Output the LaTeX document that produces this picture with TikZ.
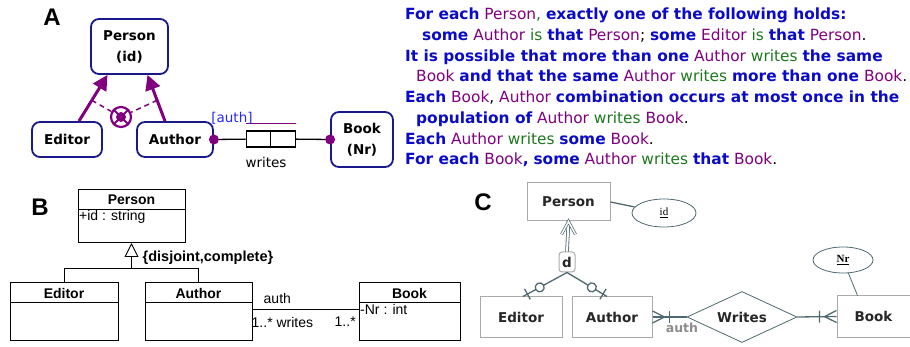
\documentclass[tikz,border=0pt]{standalone}
\usepackage{fontspec}
\setmainfont{DejaVu Sans}
\newfontfamily\umlfont{Liberation Sans}
\newfontfamily\erserif{Liberation Serif}
\usetikzlibrary{
arrows.meta,
decorations.markings,
positioning,
shapes.geometric
}
\definecolor{ormnavy}{RGB}{25,25,140}
\definecolor{ormblue}{RGB}{10,10,200}
\definecolor{ormpurple}{RGB}{128,0,128}
\definecolor{ormgreen}{RGB}{30,120,30}
\definecolor{rolename}{RGB}{40,40,255}
\definecolor{erline}{RGB}{80,105,112}
\definecolor{erborder}{RGB}{170,170,170}
\newcommand\ormKw[1]{\textcolor{ormblue}{\bfseries #1}}
\newcommand\ormObj[1]{\textcolor{ormpurple}{#1}}
\newcommand\ormVerb[1]{\textcolor{ormgreen}{#1}}

\begin{document}
\begin{tikzpicture}[x=1pt, y=-1pt, font=\fontsize{13.5}{21}\selectfont,
	paneltag/.style={font=\umlfont\fontsize{24}{24}\selectfont\bfseries},
	ormtype/.style={
		draw=ormnavy,
		line width=1.8pt,
		rounded corners=8pt,
		align=center,
		inner sep=0pt,
		font=\fontsize{13.5}{21}\selectfont\bfseries
	},
	subtype/.style={draw=ormpurple, line width=3pt, -{Triangle[length=15pt,width=15pt]}},
	roledot/.style={circle, fill=ormpurple, inner sep=0pt, minimum size=10pt},
	rolebox/.style={draw, line width=1.3pt, minimum width=24.5pt, minimum height=16pt, inner sep=0pt},
	umlhead/.style={draw, line width=1pt, inner sep=0pt, minimum height=20pt, font=\umlfont\fontsize{14}{14}\selectfont\bfseries},
	umlbody/.style={draw, line width=1pt, inner sep=0pt},
	umltext/.style={font=\umlfont\fontsize{14}{14}\selectfont, inner sep=1.5pt},
	erbox/.style={draw=erborder, line width=1pt, text=black!85, font=\fontsize{13.5}{14}\selectfont\bfseries},
	erattr/.style={ellipse, draw=erline, line width=.8pt, inner sep=0pt},
	erlink/.style={draw=erline, line width=1.3pt},
	optone/.style={erlink, decoration={markings,
		mark=at position .62 with {\draw[erlink, fill=white] (0,0) circle (4.5pt);},
		mark=at position .9 with {\draw[erlink] (0,-6pt) -- (0,6pt);}}, postaction=decorate},
	manyone/.style={erlink, decoration={markings,
		mark=at position 12pt with {\draw[erlink] (-12pt,6pt) -- (0,0) -- (-12pt,-6pt);
			\draw[erlink] (5pt,-6pt) -- (5pt,6pt);}}, postaction=decorate}
	]
	\useasboundingbox (0,0) rectangle (910,347);

	% A: ORM schema
	\node[paneltag]                               (tagA)    at (52,17)      {A};
	\node[ormtype, minimum width=77, minimum height=55] (personA) at (129.5,46.5) {Person\\(id)};
	\node[ormtype, minimum width=70, minimum height=35] (editorA) at (67,139.5)   {Editor};
	\node[ormtype, minimum width=76, minimum height=35] (authorA) at (175,139.5)  {Author};
	\node[ormtype, minimum width=62, minimum height=55] (bookA)   at (362,139.5)  {Book\\(Nr)};

	\draw[subtype] ([xshift=12pt]editorA.north) -- coordinate[pos=.45] (emid) ([xshift=-22pt]personA.south);
	\draw[subtype] ([xshift=-10pt]authorA.north) -- coordinate[pos=.45] (amid) ([xshift=18pt]personA.south);

	\node[circle, draw=ormpurple, line width=2.2pt, minimum size=20pt, inner sep=0pt] (xorA) at (121,117) {};
	\draw[ormpurple, line width=1.8pt] (xorA.45) -- (xorA.225) (xorA.135) -- (xorA.315);
	\fill[ormpurple] (xorA) circle (5pt);
	\draw[ormpurple, line width=1.5pt, dash pattern=on 5pt off 4pt] (emid) -- (xorA);
	\draw[ormpurple, line width=1.5pt, dash pattern=on 5pt off 4pt] (amid) -- (xorA);

	\node[rolebox]                  (roleL) at (258.5,139) {};
	\node[rolebox, right=-1.3pt of roleL] (roleR) {};
	\node[roledot] (dotAuthor) at (authorA.east) {};
	\node[roledot] (dotBook)   at (bookA.west)   {};
	\draw[line width=1.3pt] (dotAuthor) -- (roleL);
	\draw[line width=1.3pt] (roleR) -- (dotBook);
	\draw[ormpurple, line width=1.5pt] ([yshift=7pt]roleL.north west) -- ([yshift=7pt]roleR.north east);
	\node[text=rolename] (authA)   at (232,118) {[auth]};
	\node                (writesA) at (266,162) {writes};

	% verbalisation
	\node[anchor=north west, align=left, inner sep=0pt, font=\fontsize{15.4}{20.7}\selectfont] (rulesA) at (405,8) {%
		\ormKw{For each} \ormObj{Person}\ormVerb{,} \ormKw{exactly one of the following holds:}\\
		\hspace*{17pt}\ormKw{some} \ormObj{Author} \ormVerb{is} \ormKw{that} \ormObj{Person}; \ormKw{some} \ormObj{Editor} \ormVerb{is} \ormKw{that} \ormObj{Person}.\\
		\ormKw{It is possible that more than one} \ormObj{Author} \ormVerb{writes} \ormKw{the same}\\
		\hspace*{11pt}\ormObj{Book} \ormKw{and that the same} \ormObj{Author} \ormVerb{writes} \ormKw{more than one} \ormObj{Book}.\\
		\ormKw{Each} \ormObj{Book}, \ormObj{Author} \ormKw{combination occurs at most once in the}\\
		\hspace*{11pt}\ormKw{population of} \ormObj{Author} \ormVerb{writes} \ormObj{Book}.\\
		\ormKw{Each} \ormObj{Author} \ormVerb{writes} \ormKw{some} \ormObj{Book}.\\
		\ormKw{For each} \ormObj{Book}\ormKw{,} \ormKw{some} \ormObj{Author} \ormVerb{writes} \ormKw{that} \ormObj{Book}.};

	% B: UML class diagram
	\node[paneltag] (tagB) at (40,207) {B};
	\node[umlhead, minimum width=107]                        (personB)     at (131.5,199.5) {Person};
	\node[umlbody, minimum width=107, minimum height=33, below=-1pt of personB] (personBbody) {};
	\node[umltext, anchor=north west] (idB) at (personBbody.north west) {+id : string};
	\node[umlhead, minimum width=108]                        (editorB)     at (64,293)    {Editor};
	\node[umlbody, minimum width=108, minimum height=37, below=-1pt of editorB] (editorBbody) {};
	\node[umlhead, minimum width=107]                        (authorB)     at (198.5,293) {Author};
	\node[umlbody, minimum width=107, minimum height=37, below=-1pt of authorB] (authorBbody) {};
	\node[umlhead, minimum width=101]                        (bookB)       at (409.5,293) {Book};
	\node[umlbody, minimum width=101, minimum height=37, below=-1pt of bookB]   (bookBbody)   {};
	\node[umltext, anchor=north west] (nrB) at (bookBbody.north west) {-Nr : int};

	\coordinate (genB) at (131.5,268);
	\draw[line width=.9pt, -{Triangle[open,length=14pt,width=14pt]}] (genB) -- (personBbody.south);
	\draw[line width=.9pt] (editorB.north) -- (editorB.north |- genB) -| (authorB.north);
	\node[umltext, font=\umlfont\fontsize{14.5}{14}\selectfont\bfseries, anchor=west] (constraintB) at (141,258) {\{disjoint,complete\}};

	\draw[line width=.9pt] ([yshift=-7pt]authorBbody.north east) -- ([yshift=-7pt]bookBbody.north west);
	\node[umltext, anchor=west] (authB)   at (262,298) {auth};
	\node[umltext, anchor=west] (writesB) at (250,322) {1..* writes};
	\node[umltext, anchor=west] (multB)   at (333,322) {1..*};

	% C: EER diagram
	\node[paneltag] (tagC) at (483,202) {C};
	\node[erbox, minimum width=83, minimum height=38] (personC) at (568.5,202) {Person};
	\node[erattr, minimum width=64, minimum height=28] (idC) at (664,213) {\erserif\fontsize{11}{11}\selectfont\underline{id}};
	\node[erbox, rounded corners=3pt, minimum width=16, minimum height=20, inner sep=0pt] (dC) at (567,262) {d};
	\node[erbox, minimum width=82, minimum height=40] (editorC) at (521,317)   {Editor};
	\node[erbox, minimum width=80, minimum height=40] (authorC) at (612,317)   {Author};
	\node[erbox, minimum width=73, minimum height=41] (bookC)   at (873.5,316.5) {Book};
	\node[erbox, diamond, draw=erline, line width=.8pt, aspect=2.15, minimum width=110, minimum height=51, inner sep=0pt] (writesC) at (742,317) {Writes};
	\node[erattr, minimum width=60, minimum height=26] (nrC) at (843,260) {\erserif\fontsize{11}{11}\selectfont\bfseries\underline{Nr}};

	\draw[erlink] (personC.east) -- (idC);
	\draw[erlink, double distance=2pt, line width=.8pt] (dC.north) -- (personC.south);
	\draw[erlink, double distance=1.5pt, line width=.7pt] ([xshift=-7pt,yshift=-13pt]personC.south) -- (personC.south) -- ([xshift=7pt,yshift=-13pt]personC.south);
	\draw[optone] (dC.south) -- ([xshift=2pt]editorC.north);
	\draw[optone] (dC.south) -- ([xshift=-5pt]authorC.north);
	\draw[manyone] (authorC.east) -- (writesC.west);
	\draw[manyone] (bookC.west) -- (writesC.east);
	\draw[erlink, line width=.8pt] (nrC) -- ([xshift=-16pt]bookC.north);
	\node[text=black!45, font=\fontsize{12.5}{12}\selectfont\bfseries] (authC) at (682,328) {auth};
\end{tikzpicture}
\end{document}
